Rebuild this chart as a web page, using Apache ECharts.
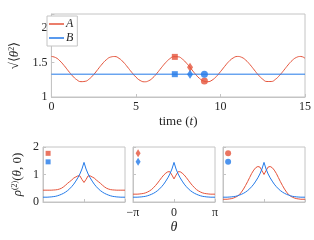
<!DOCTYPE html>
<html><head><meta charset="utf-8">
<script src="https://cdn.jsdelivr.net/npm/echarts@6/dist/echarts.min.js"></script>
<style>html,body{margin:0;padding:0;background:#fff}#c{width:314px;height:240px}</style>
</head><body><div id="c"></div>
<script>
// ---------- top panel data ----------
const timeT = [0,0.25,0.5,0.75,1,1.25,1.5,1.75,2,2.25,2.5,2.75,3,3.25,3.5,3.75,4,4.25,4.5,4.75,5,5.25,5.5,5.75,6,6.25,6.5,6.75,7,7.25,7.5,7.75,8,8.25,8.5,8.75,9,9.25,9.5,9.75,10,10.25,10.5,10.75,11,11.25,11.5,11.75,12,12.25,12.5,12.75,13,13.25,13.5,13.75,14,14.25,14.5,14.75,15];
const seriesA = [1.586,1.570,1.523,1.455,1.378,1.305,1.250,1.222,1.227,1.263,1.324,1.400,1.476,1.539,1.577,1.585,1.559,1.506,1.434,1.357,1.288,1.239,1.220,1.234,1.278,1.345,1.422,1.495,1.553,1.583,1.581,1.547,1.487,1.413,1.336,1.271,1.231,1.221,1.243,1.295,1.366,1.443,1.514,1.564,1.586,1.574,1.532,1.467,1.391,1.316,1.257,1.224,1.224,1.255,1.314,1.387,1.464,1.530,1.573,1.586,1.560];
const timeB = [0, 15];
const seriesB = [1.33, 1.33];
const markerTimes = [7.3, 8.2, 9.05];
const markerA = [1.58, 1.43, 1.23];
const markerB = [1.33, 1.33, 1.33];

// ---------- bottom panels data ----------
const theta = [-3.142,-2.985,-2.827,-2.670,-2.513,-2.356,-2.199,-2.042,-1.885,-1.728,-1.571,-1.414,-1.257,-1.100,-0.942,-0.785,-0.628,-0.471,-0.314,-0.157,0,0.157,0.314,0.471,0.628,0.785,0.942,1.100,1.257,1.414,1.571,1.728,1.885,2.042,2.199,2.356,2.513,2.670,2.827,2.985,3.142];
const rhoB = [0.175,0.175,0.175,0.18,0.185,0.195,0.205,0.225,0.25,0.28,0.315,0.36,0.415,0.48,0.56,0.65,0.76,0.88,1.02,1.20,1.44,1.20,1.02,0.88,0.76,0.65,0.56,0.48,0.415,0.36,0.315,0.28,0.25,0.225,0.205,0.195,0.185,0.18,0.175,0.175,0.175];
const rhoA1 = [0.43,0.43,0.43,0.43,0.43,0.435,0.44,0.45,0.47,0.50,0.55,0.61,0.68,0.74,0.80,0.87,0.91,0.95,0.95,0.82,0.71,0.82,0.95,0.95,0.91,0.87,0.80,0.74,0.68,0.61,0.55,0.50,0.47,0.45,0.44,0.435,0.43,0.43,0.43,0.43,0.43];
const rhoA2 = [0.285,0.285,0.285,0.29,0.30,0.31,0.33,0.36,0.40,0.45,0.52,0.60,0.69,0.79,0.89,0.98,1.05,1.10,1.10,0.98,0.84,0.98,1.10,1.10,1.05,0.98,0.89,0.79,0.69,0.60,0.52,0.45,0.40,0.36,0.33,0.31,0.30,0.29,0.285,0.285,0.285];
const rhoA3 = [0.10,0.10,0.10,0.11,0.12,0.14,0.17,0.21,0.27,0.36,0.47,0.60,0.74,0.89,1.04,1.16,1.25,1.29,1.27,1.14,1.00,1.14,1.27,1.29,1.25,1.16,1.04,0.89,0.74,0.60,0.47,0.36,0.27,0.21,0.17,0.14,0.12,0.11,0.10,0.10,0.10];
const panelMarkerTheta = -2.75;
const panelMarkerA = 1.77;
const panelMarkerB = 1.46;

const RED = '#e5533a', BLUE = '#2279e8', BOX = '#c4c4c4', TXT = '#262626';
const FONT = 'Liberation Serif';
const diamond = 'path://M0,-10L6,0L0,10L-6,0Z';
const shapes = ['rect', diamond, 'circle'];
const shapeSizeTop = [[6,6],[6,9],[7,7]];
const shapeSizeBot = [[5,5],[5,8],[6,6]];
const zip = (xs, ys) => xs.map((x, i) => [x, ys[i]]);

const grids = [
  {left:43, top:14, width:262, height:83},
  {left:43, top:147, width:82, height:55},
  {left:133, top:147, width:82, height:55},
  {left:223, top:147, width:82, height:55}
].map(g => Object.assign(g, {show:true, borderColor:BOX, borderWidth:1, backgroundColor:'#fff'}));

const axisCommon = {
  axisLine:{show:true, onZero:false, lineStyle:{color:BOX, width:1}},
  axisTick:{show:true, inside:true, length:3, lineStyle:{color:BOX}},
  splitLine:{show:false},
  axisLabel:{color:TXT, fontFamily:FONT, fontSize:12, margin:4, showMaxLabel:null}
};

const piFmt = v => Math.abs(v + Math.PI) < 1e-3 ? '\u2212\u03c0' : (Math.abs(v) < 1e-3 ? '0' : (Math.abs(v - Math.PI) < 1e-3 ? '\u03c0' : ''));

const xAxes = [
  Object.assign({}, axisCommon, {gridIndex:0, type:'value', min:0, max:15, interval:5,
    name:'time ({i|t})', nameLocation:'middle', nameGap:18,
    nameTextStyle:{color:TXT, fontFamily:FONT, fontSize:13, rich:{i:{fontStyle:'italic', fontFamily:FONT, fontSize:13, color:TXT}}}})
];
for (let p = 1; p <= 3; p++) {
  const ax = Object.assign({}, axisCommon, {gridIndex:p, type:'value', min:-Math.PI, max:Math.PI, interval:Math.PI});
  ax.axisLabel = Object.assign({}, axisCommon.axisLabel, {show: p === 2, formatter: piFmt, margin:5});
  if (p === 2) {
    ax.name = '{i|\u03b8}';
    ax.nameLocation = 'middle';
    ax.nameGap = 17;
    ax.nameTextStyle = {rich:{i:{fontStyle:'italic', fontFamily:FONT, fontSize:14, color:TXT}}};
  }
  xAxes.push(ax);
}

const yAxes = [
  Object.assign({}, axisCommon, {gridIndex:0, type:'value', min:1, max:2.2, interval:0.5,
    axisLabel:Object.assign({}, axisCommon.axisLabel, {formatter: v => (Math.abs(v - 2.2) < 1e-6 ? '' : String(v))}),
    name:'\u221a\u27e8{i|\u03b8}{s|2}\u27e9', nameLocation:'middle', nameGap:19, nameRotate:90,
    nameTextStyle:{color:TXT, fontFamily:FONT, fontSize:13,
      rich:{i:{fontStyle:'italic', fontFamily:FONT, fontSize:13, color:TXT}, s:{fontFamily:FONT, fontSize:8, color:TXT, verticalAlign:'top', padding:[0,0,6,0]}}}})
];
for (let p = 1; p <= 3; p++) {
  const ax = Object.assign({}, axisCommon, {gridIndex:p, type:'value', min:0, max:2, interval:1});
  ax.axisLabel = Object.assign({}, axisCommon.axisLabel, {show: p === 1});
  if (p === 1) {
    ax.name = '{i|\u03c1}{s|(2)}({i|\u03b8}, 0)';
    ax.nameLocation = 'middle';
    ax.nameGap = 18;
    ax.nameRotate = 90;
    ax.nameTextStyle = {color:TXT, fontFamily:FONT, fontSize:13,
      rich:{i:{fontStyle:'italic', fontFamily:FONT, fontSize:13, color:TXT}, s:{fontFamily:FONT, fontSize:8, color:TXT, verticalAlign:'top', padding:[0,0,6,0]}}};
  }
  yAxes.push(ax);
}

const series = [
  {name:'A', type:'line', xAxisIndex:0, yAxisIndex:0, data:zip(timeT, seriesA), smooth:true, showSymbol:false, lineStyle:{color:RED, width:1}, itemStyle:{color:RED}, z:2},
  {name:'B', type:'line', xAxisIndex:0, yAxisIndex:0, data:zip(timeB, seriesB), showSymbol:false, lineStyle:{color:BLUE, width:1}, itemStyle:{color:BLUE}, z:2},
  {name:'mA', type:'scatter', xAxisIndex:0, yAxisIndex:0, z:5,
    data: markerTimes.map((t, i) => ({value:[t, markerA[i]], symbol:shapes[i], symbolSize:shapeSizeTop[i]})), itemStyle:{color:RED}},
  {name:'mB', type:'scatter', xAxisIndex:0, yAxisIndex:0, z:5,
    data: markerTimes.map((t, i) => ({value:[t, markerB[i]], symbol:shapes[i], symbolSize:shapeSizeTop[i]})), itemStyle:{color:BLUE}}
];
const rhoAs = [rhoA1, rhoA2, rhoA3];
for (let p = 1; p <= 3; p++) {
  series.push({name:'rA'+p, type:'line', xAxisIndex:p, yAxisIndex:p, data:zip(theta, rhoAs[p-1]), showSymbol:false, lineStyle:{color:RED, width:1}, z:2});
  series.push({name:'rB'+p, type:'line', xAxisIndex:p, yAxisIndex:p, data:zip(theta, rhoB), showSymbol:false, lineStyle:{color:BLUE, width:1}, z:3});
  series.push({name:'pA'+p, type:'scatter', xAxisIndex:p, yAxisIndex:p, data:[[panelMarkerTheta, panelMarkerA]], symbol:shapes[p-1], symbolSize:shapeSizeBot[p-1], itemStyle:{color:RED}, z:5});
  series.push({name:'pB'+p, type:'scatter', xAxisIndex:p, yAxisIndex:p, data:[[panelMarkerTheta, panelMarkerB]], symbol:shapes[p-1], symbolSize:shapeSizeBot[p-1], itemStyle:{color:BLUE}, z:5});
}

const chart = echarts.init(document.getElementById('c'), null, {renderer:'canvas'});
chart.setOption({
  animation:false,
  backgroundColor:'#fff',
  grid: grids,
  xAxis: xAxes,
  yAxis: yAxes,
  legend: {data:['A','B'], left:47, top:16, orient:'vertical', icon:'rect', itemWidth:15, itemHeight:1.5, itemGap:2,
    padding:[2,4,2,2], borderColor:BOX, borderWidth:1, backgroundColor:'#fff',
    textStyle:{fontFamily:FONT, fontStyle:'italic', fontSize:12, color:TXT, padding:[0,0,0,-3]}},
  series: series
});
</script>
</body></html>
